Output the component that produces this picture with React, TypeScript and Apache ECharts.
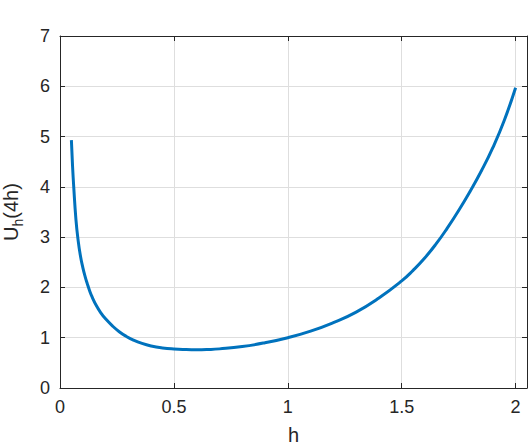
import React, { useEffect, useRef } from "react";
import * as echarts from "echarts";

const hValues = [
  0.05, 0.055, 0.06, 0.07, 0.08, 0.09, 0.1, 0.11, 0.12, 0.13, 0.14, 0.16, 0.18,
  0.2, 0.23, 0.26, 0.29, 0.32, 0.36, 0.4, 0.45, 0.5, 0.55, 0.6, 0.65, 0.7, 0.8,
  0.9, 1.0, 1.1, 1.2, 1.3, 1.4, 1.5, 1.55, 1.6, 1.65, 1.7, 1.75, 1.8, 1.85, 1.9,
  1.95, 2.0,
];
const uValues = [
  4.93, 4.42, 4.02, 3.35, 2.92, 2.62, 2.4, 2.22, 2.07, 1.935, 1.82, 1.635, 1.49,
  1.375, 1.235, 1.12, 1.03, 0.958, 0.886, 0.836, 0.797, 0.775, 0.764, 0.76,
  0.765, 0.778, 0.825, 0.9, 1.0, 1.13, 1.3, 1.51, 1.79, 2.13, 2.34, 2.58, 2.86,
  3.18, 3.53, 3.91, 4.32, 4.78, 5.32, 5.97,
];
const xTicks = [0, 0.5, 1, 1.5, 2];
const yTicks = [0, 1, 2, 3, 4, 5, 6, 7];

const FONT = "'Liberation Sans', Arial, Helvetica, sans-serif";
const TEXT = "#262626";
const AXIS = "#262626";
const GRID = "#dedede";

export default function App() {
  const ref = useRef<HTMLDivElement>(null);
  useEffect(() => {
    document.body.style.margin = "0";
    if (!ref.current) return;
    const chart = echarts.init(ref.current, undefined, { renderer: "svg" });
    const data = hValues.map((h, i) => [h, uValues[i]]);
    const axisLine = { show: true, onZero: false, lineStyle: { color: AXIS, width: 1 } };
    const tick = { show: true, inside: true, length: 5, lineStyle: { color: AXIS } };
    chart.setOption({
      animation: false,
      backgroundColor: "#ffffff",
      textStyle: { fontFamily: FONT },
      grid: {
        left: 60,
        right: 3,
        top: 36,
        bottom: 57,
        containLabel: false,
        outerBoundsMode: "none",
      },
      xAxis: [
        {
          type: "value",
          min: 0,
          max: 2.05,
          interval: 0.5,
          position: "bottom",
          axisLine,
          axisTick: tick,
          axisLabel: {
            color: TEXT,
            fontSize: 18,
            fontFamily: FONT,
            margin: 10,
            showMaxLabel: false,
            formatter: (v: number) => (xTicks.includes(v) ? String(v) : ""),
          },
          splitLine: { show: true, lineStyle: { color: GRID, width: 1 } },
          name: "h",
          nameLocation: "middle",
          nameGap: 37,
          nameTextStyle: { color: TEXT, fontSize: 20, lineHeight: 20, fontFamily: FONT },
        },
        {
          type: "value",
          min: 0,
          max: 2.05,
          interval: 0.5,
          position: "top",
          axisLine,
          axisTick: tick,
          axisLabel: { show: false },
          splitLine: { show: false },
        },
      ],
      yAxis: [
        {
          type: "value",
          min: 0,
          max: 7,
          interval: 1,
          position: "left",
          axisLine,
          axisTick: tick,
          axisLabel: {
            color: TEXT,
            fontSize: 18,
            fontFamily: FONT,
            margin: 10,
            formatter: (v: number) => (yTicks.includes(v) ? String(v) : ""),
          },
          splitLine: { show: true, lineStyle: { color: GRID, width: 1 } },
          name: "{a|U}{s|h}{a|(4h)}",
          nameLocation: "middle",
          nameGap: 39,
          nameTextStyle: {
            color: TEXT,
            fontFamily: FONT,
            rich: {
              a: { fontSize: 20, color: TEXT, fontFamily: FONT, verticalAlign: "bottom", lineHeight: 24 },
              s: { fontSize: 14, color: TEXT, fontFamily: FONT, verticalAlign: "bottom", lineHeight: 18, padding: [0, 0, -4, 0] },
            },
          },
        },
        {
          type: "value",
          min: 0,
          max: 7,
          interval: 1,
          position: "right",
          axisLine,
          axisTick: tick,
          axisLabel: { show: false },
          splitLine: { show: false },
        },
      ],
      series: [
        {
          type: "line",
          data,
          smooth: true,
          showSymbol: false,
          symbol: "none",
          lineStyle: { color: "#0072BD", width: 3 },
          xAxisIndex: 0,
          yAxisIndex: 0,
        },
      ],
    });
    return () => chart.dispose();
  }, []);
  return <div ref={ref} style={{ width: 530, height: 445 }} />;
}
